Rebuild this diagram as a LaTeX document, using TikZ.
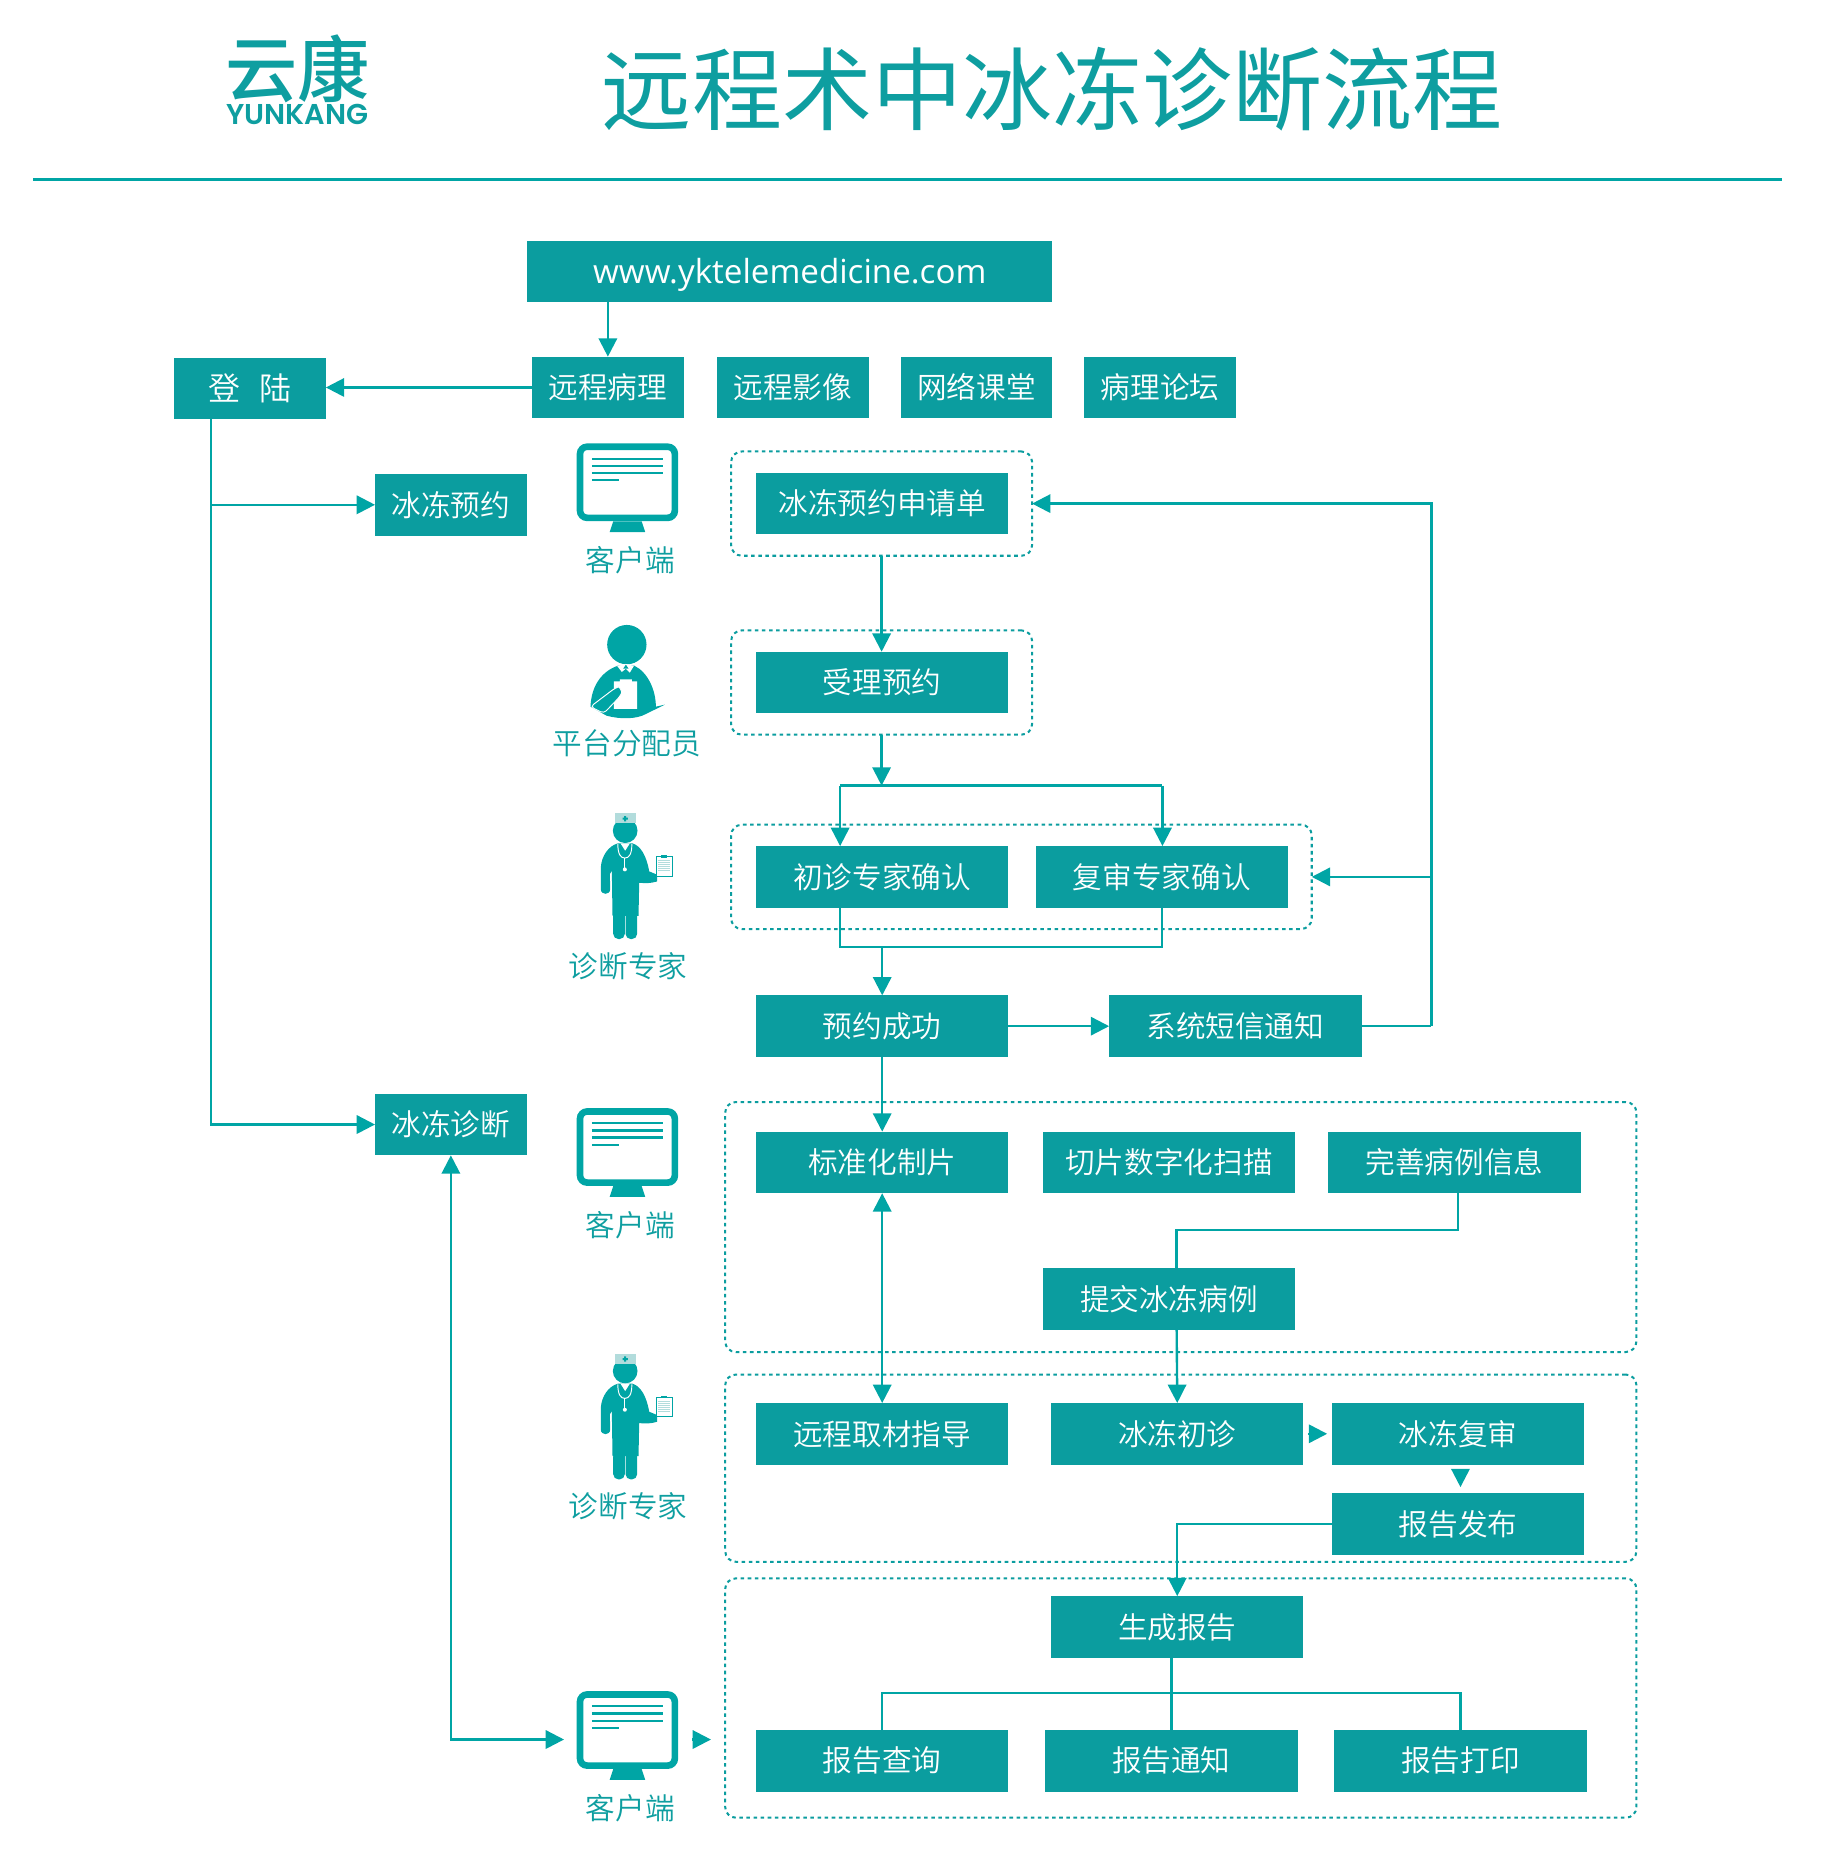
\documentclass[tikz,border=0pt]{standalone}
\usepackage{fontspec}
\usepackage{tikz}
\usetikzlibrary{shapes, arrows.meta, positioning}
\setmainfont{Noto Sans CJK SC DemiLight}
\newfontfamily\cjkreg{Noto Sans CJK SC}
\newfontfamily\cjkbold{Noto Sans CJK SC Medium}
\newfontfamily\urlfont{Open Sans}
\newfontfamily\logofont{Poppins SemiBold}
\definecolor{boxteal}{HTML}{0B9D9F}
\definecolor{lineteal}{HTML}{00A5A5}
\definecolor{textteal}{HTML}{0E9EA0}
\definecolor{hatteal}{HTML}{B2DCDC}

\tikzset{
    monitor/.pic={
        \draw [lineteal, line width=5.6pt, rounded corners=6pt] (-40,-30) rectangle (40,30);
        \fill [lineteal] (-12,33) -- (12,33) -- (15,42) -- (-15,42) -- cycle;
        \foreach \y in {-20,-14,-8}
            \draw [lineteal, line width=1.8pt] (-30,\y) -- (30,\y);
        \draw [lineteal, line width=1.8pt] (-30,-2) -- (-7,-2);
    },
    doctor/.pic={
        \begin{scope}[x=.2815pt, y=-.2815pt, shift={(-254,-800)}]
            \fill [lineteal] (254,690) circle [radius=37];
            \fill [hatteal] (222,638) rectangle (287,668);
            \fill [lineteal] (246,651) rectangle (262,657) (251,646) rectangle (257,662);
            % body and arms
            \fill [lineteal] (232,728) -- (276,728) .. controls (300,735) and (318,765) .. (326,812)
                -- (350,822) -- (350,842) .. controls (330,848) and (315,848) .. (296,846) -- (294,945)
                -- (216,945) -- (214,810) -- (208,820) -- (209,865) .. controls (209,884) and (181,884) .. (181,865)
                -- (181,800) .. controls (183,765) and (205,735) .. (232,728) -- cycle;
            \fill [lineteal, rounded corners=4.5pt] (218,930) rectangle (253,1015);
            \fill [lineteal, rounded corners=4.5pt] (255,930) rectangle (290,1015);
            \draw [white, line width=.8pt] (232,730) .. controls (232,760) and (240,772) .. (253,772)
                .. controls (266,772) and (274,760) .. (274,730);
            \draw [white, line width=.8pt] (253,772) -- (253,805);
            \fill [white] (253,806) circle [radius=6];
            \fill [white] (240,728) -- (268,728) -- (254,750) -- cycle;
            % clipboard
            \draw [lineteal, fill=white, line width=.6pt] (346,768) rectangle (395,827);
            \fill [lineteal] (360,764) rectangle (380,771);
            \foreach \y in {780,786,...,814}
                \draw [hatteal, line width=.8pt] (353,\y) -- (388,\y);
        \end{scope}
    },
    clerk/.pic={
        \begin{scope}[x=.2815pt, y=-.2815pt, shift={(-261,-132)}]
            \fill [lineteal] (261,132) circle [radius=59];
            \fill [lineteal] (235,195) .. controls (190,210) and (155,250) .. (152,318)
                -- (200,345) .. controls (240,356) and (290,356) .. (318,340)
                -- (375,312) -- (348,318) .. controls (348,270) and (325,215) .. (283,195) -- cycle;
            \fill [white] (232,196) -- (246,214) -- (258,204) -- (270,216) -- (282,196) -- (258,190) -- cycle;
            \fill [lineteal] (258,192) -- (266,204) -- (250,204) -- cycle;
            % clipboard and arm
            \fill [white] (222,242) -- (240,242) -- (240,236) -- (276,236) -- (276,242) -- (292,242) -- (292,325) -- (222,325) -- cycle;
            \draw [white, line width=.8pt, fill=lineteal, rounded corners=3pt] (152,318) -- (226,262)
                .. controls (238,258) and (248,272) .. (240,288) -- (192,338) -- cycle;
        \end{scope}
    }
}

\begin{document}
\begin{tikzpicture}
    [
    x=1pt, y=-1pt,
    box/.style={fill=boxteal, text=white, inner sep=0pt, outer sep=0pt, minimum height=52pt, font=\fontsize{25}{30}\selectfont},
    sbox/.style={box, minimum width=128pt},
    wbox/.style={box, minimum width=213pt},
    group/.style={draw=boxteal, line width=1.7pt, dash pattern=on 3pt off 3pt, rounded corners=9pt, inner sep=0pt, outer sep=0pt},
    lbl/.style={text=textteal, font=\fontsize{25}{30}\selectfont},
    line/.style={draw=lineteal, line width=2pt},
    arrow/.style={line, -{Triangle[length=15.5pt, width=15.5pt]}},
    both/.style={line, {Triangle[length=15.5pt, width=15.5pt]}-{Triangle[length=15.5pt, width=15.5pt]}},
    ]
    \useasboundingbox (0,0) rectangle (1541,1568);

    % header
    \node (logo) [text=textteal, font=\cjkbold\fontsize{61}{61}\selectfont] at (251,58) {云康};
    \node (logoen) [text=textteal, font=\logofont\fontsize{24.2}{25}\selectfont] at (251,97) {YUNKANG};
    \node (title) [text=textteal, font=\cjkreg\fontsize{76}{80}\selectfont] at (888,75) {远程术中冰冻诊断流程};
    \coordinate (rulel) at (28,151.5);
    \coordinate (ruler) at (1504,151.5);
    \draw [line] (rulel) -- (ruler);

    % dashed groups
    \node (yygrp) [group, minimum width=254pt, minimum height=88pt] at (744,425) {};
    \node (slgrp) [group, minimum width=254pt, minimum height=88pt] at (744,576) {};
    \node (qrgrp) [group, minimum width=490pt, minimum height=88pt] at (862,740) {};
    \node (zbgrp) [group, minimum width=769pt, minimum height=211pt] at (996.5,1035.5) {};
    \node (zdgrp) [group, minimum width=769pt, minimum height=158pt] at (996.5,1239) {};
    \node (bggrp) [group, minimum width=769pt, minimum height=202pt] at (996.5,1433) {};

    % top row
    \node (url) [box, minimum width=443pt, text height=27pt, text depth=6pt, font=\urlfont\fontsize{28}{30}\selectfont] at (666.5,229) {www.yktelemedicine.com};
    \node (ycbl) [sbox] at (513,327) {远程病理};
    \node (ycyx) [sbox, right=28pt of ycbl] {远程影像};
    \node (wlkt) [sbox, right=27pt of ycyx] {网络课堂};
    \node (bltl) [sbox, right=27pt of wlkt] {病理论坛};
    \node (login) [sbox, font=\fontsize{27}{30}\selectfont] at (211,328) {\spaceskip 16pt\relax 登 陆};
    \node (bdyy) [sbox] at (380.5,426) {冰冻预约};
    \node (bdzd) [sbox] at (380.5,949) {冰冻诊断};

    % booking
    \node (yysq) [wbox] at (744.5,425) {冰冻预约申请单};
    \node (slyy) [wbox, below=99pt of yysq] {受理预约};
    \node (czqr) [wbox, below=112pt of slyy] {初诊专家确认};
    \node (fsqr) [wbox, right=23pt of czqr] {复审专家确认};
    \node (yycg) [wbox, below=74pt of czqr] {预约成功};
    \node (dxtz) [wbox, right=85pt of yycg] {系统短信通知};

    % diagnosis
    \node (bzh) [wbox, below=63pt of yycg] {标准化制片};
    \node (qpsm) [wbox, right=29pt of bzh] {切片数字化扫描};
    \node (wsbl) [wbox, right=28pt of qpsm] {完善病例信息};
    \node (tjbl) [wbox, below=63pt of qpsm] {提交冰冻病例};
    \node (ycqc) [wbox, below=177pt of bzh] {远程取材指导};
    \node (dzcz) [wbox, right=36pt of ycqc] {冰冻初诊};
    \node (dzfs) [wbox, right=24pt of dzcz] {冰冻复审};
    \node (bgfb) [wbox, below=24pt of dzfs] {报告发布};
    \node (scbg) [wbox, below=111pt of dzcz] {生成报告};
    \node (bgcx) [wbox, below=224pt of ycqc] {报告查询};
    \node (bgtz) [wbox, right=31pt of bgcx] {报告通知};
    \node (bgdy) [wbox, right=31pt of bgtz] {报告打印};

    % icons and captions
    \pic at (529.5,407) {monitor};
    \node (kh1) [lbl] at (532,473) {客户端};
    \pic at (529,544) {clerk};
    \node (ptfp) [lbl] at (529,627) {平台分配员};
    \pic at (527.6,732) {doctor};
    \node (zd1) [lbl] at (530,815) {诊断专家};
    \pic at (529.5,968) {monitor};
    \node (kh2) [lbl] at (532,1034) {客户端};
    \pic at (527.6,1188) {doctor};
    \node (zd2) [lbl] at (530,1271) {诊断专家};
    \pic at (529.5,1460) {monitor};
    \node (kh3) [lbl] at (532,1526) {客户端};

    % helper points
    \coordinate (dlout) at ([xshift=-33pt]login.south);
    \coordinate (brtop) at (744,663);
    \coordinate (czin) at (709,663);
    \coordinate (fsin) at (981,663);
    \coordinate (hbl) at (709,799);
    \coordinate (fbr) at (1208,866);
    \coordinate (tjin) at (993,1038);
    \coordinate (fen) at (988.5,1429);
    \coordinate (mon3) at (476,1468);
    \coordinate (monr) at (584,1468);
    \coordinate (monq) at (600,1468);

    % Edges
    \draw [arrow] (ycbl.north |- url.south) -- (ycbl);
    \draw [arrow] (ycbl.west) -- (ycbl.west -| login.east);
    \draw [arrow] (dlout) |- (bdzd.west);
    \draw [arrow] (dlout |- bdyy.west) -- (bdyy.west);

    \draw [arrow] (yygrp.south) -- (slyy.north -| yygrp.south);
    \draw [arrow] (slgrp.south) -- (brtop);
    \draw [line] (czin) -- (fsin);
    \draw [arrow] (czin) -- (czin |- czqr.north);
    \draw [arrow] (fsin) -- (fsin |- fsqr.north);
    \draw [line] (hbl |- czqr.south) -- (hbl) -| (fsqr.south);
    \draw [arrow] (yycg.north |- hbl) -- (yycg.north);

    \draw [arrow] (yycg) -- (dxtz);
    \draw [line] (dxtz) -- (fbr);
    \draw [arrow] (fbr) |- (yygrp.east);
    \draw [arrow] (fbr |- qrgrp.east) -- (qrgrp.east);

    \draw [arrow] (yycg) -- (bzh);
    \draw [both] (bzh) -- (ycqc);
    \draw [line] ([xshift=3pt]wsbl.south) |- (tjin) -- (tjin |- tjbl.north);
    \draw [arrow] (tjin |- tjbl.south) -- (dzcz.north);
    \draw [arrow, shorten <=4pt, shorten >=4pt] (dzcz) -- (dzfs);
    \draw [arrow, shorten <=5pt, shorten >=5pt] ([xshift=2pt]dzfs.south) -- ([xshift=2pt]bgfb.north);
    \draw [arrow] (bgfb.west) -| (scbg.north);

    \draw [line] (bgtz.north |- scbg.south) -- (bgtz.north);
    \draw [line] (bgcx.north) |- (fen) -| (bgdy.north);

    \draw [both] (bdzd.south) |- (mon3);
    \draw [arrow] (monr) -- (monq);

\end{tikzpicture}
\end{document}
